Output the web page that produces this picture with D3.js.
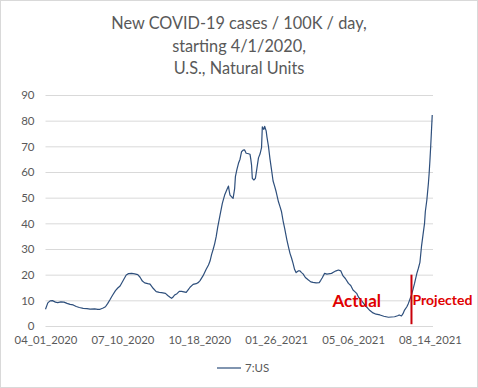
<!DOCTYPE html>
<html>

<head>
  <title>New COVID-19 cases / 100K / day</title>
  <script type="text/javascript" src="https://cdn.jsdelivr.net/npm/d3@7"></script>
  <style>
    body {
      margin: 0;
      background-color: white;
    }

    svg {
      display: block;
      font-family: Lato, "Open Sans", sans-serif;
    }
  </style>
</head>

<body>
  <script type="text/javascript">

    // Titel-linjer
    const titleLines = ["New COVID-19 cases / 100K / day,", "starting 4/1/2020,", "U.S., Natural Units"];

    // Dage efter 4/1/2020 og tilfælde pr. 100K
    const dayOffsets = [0, 3, 6, 9, 13, 16, 20, 24, 28, 32, 36, 40, 44, 49, 54, 58, 64, 68, 71, 75,
      78, 81, 84, 87, 91, 94, 97, 101, 105, 108, 112, 116, 120, 123, 126, 129, 133, 136, 140, 144,
      148, 151, 156, 159, 162, 164, 166, 168, 171, 174, 177, 180, 183, 186, 188, 192, 196, 199, 201, 205,
      209, 212, 214, 216, 218, 220, 222, 224, 227, 230, 233, 236, 238, 239, 240, 243, 244, 246, 247, 249,
      251, 253, 255, 257, 259, 261, 263, 266, 267, 268, 269, 271, 273, 275, 277, 279, 281, 282, 283, 284,
      285, 287, 288, 290, 292, 294, 296, 298, 300, 303, 305, 307, 309, 311, 314, 316, 318, 320, 322, 324,
      326, 329, 331, 333, 335, 338, 342, 345, 348, 352, 356, 358, 360, 363, 366, 368, 372, 375, 378, 381,
      384, 387, 390, 394, 397, 400, 403, 405, 407, 410, 413, 416, 419, 422, 426, 430, 435, 440, 446, 450,
      454, 458, 460, 463, 465, 467, 470, 472, 474, 476, 478, 480, 483, 485, 487, 489, 491, 493, 494, 496,
      498, 499, 500, 501, 502, 503];
    const cases = [6.5, 9.0, 9.8, 9.9, 9.3, 9.1, 9.4, 9.3, 8.8, 8.4, 8.2, 7.6, 7.2, 6.9, 6.8, 6.6, 6.7, 6.5, 6.5, 7.0,
      7.5, 8.8, 10.3, 11.9, 13.8, 14.8, 15.6, 17.7, 19.9, 20.4, 20.5, 20.3, 20.0, 19.0, 17.5, 16.8, 16.5, 16.3, 14.7, 13.4,
      13.1, 13.0, 12.7, 11.9, 11.2, 10.8, 11.3, 12.1, 12.6, 13.5, 13.5, 13.3, 13.1, 14.3, 15.1, 16.2, 16.5, 17.0, 17.7, 19.6,
      22.1, 23.8, 25.3, 27.8, 29.8, 32.0, 34.8, 38.5, 43.2, 47.8, 51.0, 53.2, 54.5, 52.5, 51.0, 50.0, 49.7, 53.5, 58.2, 61.0,
      63.4, 65.0, 67.9, 68.5, 68.6, 67.3, 67.2, 66.9, 65.0, 62.7, 57.5, 56.9, 57.5, 61.5, 65.5, 67.0, 69.5, 77.6, 77.0, 76.6,
      77.8, 76.0, 73.7, 70.0, 65.0, 60.8, 56.5, 54.5, 52.3, 48.4, 46.5, 44.5, 41.0, 38.1, 33.5, 30.8, 28.3, 26.5, 24.4, 22.0,
      20.8, 21.5, 21.5, 20.8, 20.3, 18.9, 17.9, 17.2, 17.0, 16.8, 16.9, 17.8, 18.8, 20.5, 20.2, 20.3, 20.5, 21.0, 21.5, 21.8,
      21.5, 19.5, 18.5, 16.6, 15.8, 14.0, 13.2, 12.6, 11.3, 10.3, 9.1, 7.9, 7.0, 6.0, 5.1, 4.6, 4.3, 3.8, 3.4, 3.5,
      3.6, 4.0, 4.3, 3.9, 4.8, 6.2, 7.5, 8.8, 10.4, 12.1, 14.3, 16.6, 20.5, 22.5, 24.8, 30.9, 35.5, 40.0, 44.5, 49.1,
      55.5, 59.5, 64.5, 69.9, 76.0, 82.2];

    // Akser
    const xTickDays = [0, 100, 200, 300, 400, 500];
    const yTicks = [0, 10, 20, 30, 40, 50, 60, 70, 80, 90];
    const seriesName = "7:US";

    // Skillelinje mellem faktisk og fremskrevet
    const splitDay = 476;
    const splitTop = 20;
    const splitBottom = 0.7;
    const annotations = ["Actual", "Projected"];

    const w = 478;
    const h = 388;

    const start = Date.UTC(2020, 3, 1);
    const dayMs = 24 * 60 * 60 * 1000;
    function toDate(d) { return new Date(start + d * dayMs); }

    const data = dayOffsets.map(function (d, i) {
      return { date: toDate(d), value: cases[i] };
    });

    const xScale = d3.scaleUtc()
      .domain([toDate(0), toDate(504)])
      .range([45.5, 433]);

    const yScale = d3.scaleLinear()
      .domain([0, 90])
      .range([326, 95]);

    const svg = d3.select("body")
      .append("svg")
      .attr("width", w)
      .attr("height", h);

    // Ramme
    svg.append("rect")
      .attr("x", 0.5).attr("y", 0.5)
      .attr("width", w - 1).attr("height", h - 1)
      .attr("fill", "white")
      .attr("stroke", "#d9d9d9");

    // Titel
    svg.append("text")
      .attr("x", 239)
      .attr("y", 29)
      .attr("text-anchor", "middle")
      .attr("fill", "#595959")
      .style("font-size", "16.3px")
      .selectAll("tspan")
      .data(titleLines)
      .enter()
      .append("tspan")
      .attr("x", 239)
      .attr("dy", function (d, i) { return i === 0 ? 0 : 22.5; })
      .text(function (d) { return d; });

    // Y-akse med gitterlinjer
    const yAxis = svg.append("g")
      .attr("transform", "translate(45.5,0)")
      .call(d3.axisLeft(yScale).tickValues(yTicks).tickSize(-(433 - 45.5)).tickPadding(11));
    yAxis.select(".domain").remove();
    yAxis.selectAll("line").attr("stroke", "#d9d9d9");
    yAxis.selectAll("text")
      .attr("fill", "#595959")
      .style("font-size", "11.5px")
      .style("font-family", "Lato, sans-serif");

    // X-akse
    const fmt = d3.utcFormat("%m_%d_%Y");
    const xAxis = svg.append("g")
      .attr("transform", "translate(0,326)")
      .call(d3.axisBottom(xScale)
        .tickValues(xTickDays.map(toDate))
        .tickFormat(fmt)
        .tickSize(0)
        .tickPadding(10));
    xAxis.select(".domain").remove();
    xAxis.selectAll("text")
      .attr("fill", "#595959")
      .style("font-size", "11.3px")
      .style("font-family", "Lato, sans-serif");

    // Linje
    const line = d3.line()
      .x(function (d) { return xScale(d.date); })
      .y(function (d) { return yScale(d.value); });

    svg.append("path")
      .datum(data)
      .attr("fill", "none")
      .attr("stroke", "#2e4f7c")
      .attr("stroke-width", 1.2)
      .attr("stroke-linejoin", "round")
      .attr("d", line);

    // Rød skillelinje
    svg.append("line")
      .attr("x1", xScale(toDate(splitDay)))
      .attr("x2", xScale(toDate(splitDay)))
      .attr("y1", yScale(splitTop))
      .attr("y2", yScale(splitBottom))
      .attr("stroke", "#c8000a")
      .attr("stroke-width", 2);

    svg.append("text")
      .attr("x", xScale(toDate(splitDay)) - 79)
      .attr("y", 306.5)
      .attr("fill", "#e00000")
      .style("font-weight", "bold")
      .style("font-size", "17px")
      .text(annotations[0]);

    svg.append("text")
      .attr("x", xScale(toDate(splitDay)) + 1)
      .attr("y", 305)
      .attr("fill", "#e00000")
      .style("font-weight", "bold")
      .style("font-size", "14px")
      .text(annotations[1]);

    // Forklaring
    svg.append("line")
      .attr("x1", 217).attr("x2", 241)
      .attr("y1", 368).attr("y2", 368)
      .attr("stroke", "#2e4f7c")
      .attr("stroke-width", 1.2);

    svg.append("text")
      .attr("x", 245)
      .attr("y", 372)
      .attr("fill", "#595959")
      .style("font-size", "11.5px")
      .text(seriesName);

  </script>
</body>

</html>
